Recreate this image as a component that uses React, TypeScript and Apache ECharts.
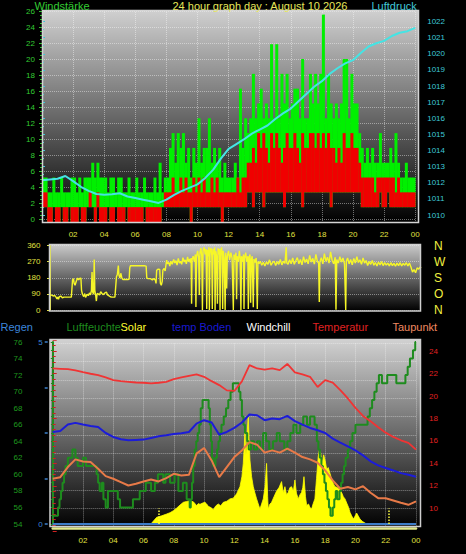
import React, { useEffect, useRef } from 'react';
import * as echarts from 'echarts';

// ---------- labels ----------
const xTickLabels = ['02', '04', '06', '08', '10', '12', '14', '16', '18', '20', '22', '00'];
const directionLetters = ['N', 'O', 'S', 'W', 'N'];
const titleText = '24 hour graph day : August 10 2026';
const topLeftTitle = 'Windstärke';
const topRightTitle = 'Luftdruck';
const legendNames = ['Regen', 'Luftfeuchte', 'Solar', 'temp Boden', 'Windchill', 'Temperatur', 'Taupunkt'];

// ---------- wind (knots, 10-minute bins; band low / avg high / gust high) ----------
const windLowKn = [
  1, 1, 0, 0, 1, 0, 0, 1, 0, 0, 1, 0, 0, 0, 1, 0, 0, 1, 1, 1, 0, 1, 0, 0,
  0, 1, 0, 0, 1, 0, 0, 0, 1, 0, 0, 0, 0, 0, 0, 1, 0, 0, 0, 0, 0, 0, 1, 1,
  1, 1, 1, 1, 1, 1, 1, 1, 1, 0, 1, 1, 1, 1, 1, 1, 1, 1, 1, 1, 1, 0, 1, 1,
  1, 1, 1, 1, 1, 1, 1, 2, 2, 1, 2, 2, 2, 1, 2, 2, 2, 2, 2, 2, 2, 1, 2, 2,
  2, 2, 2, 2, 1, 2, 2, 2, 2, 2, 2, 2, 2, 2, 2, 1, 2, 2, 2, 2, 2, 2, 2, 2,
  2, 2, 2, 1, 1, 1, 1, 1, 1, 1, 2, 1, 1, 2, 1, 1, 1, 1, 1, 1, 1, 1, 1, 1,
];
const windAvgHighKn = [
  2, 2, 1, 1, 1, 1, 1, 1, 1, 1, 1, 1, 1, 1, 1, 1, 1, 1, 2, 1, 1, 2, 1, 1,
  1, 1, 1, 1, 1, 1, 1, 1, 1, 1, 1, 1, 1, 1, 1, 1, 1, 1, 1, 1, 1, 1, 1, 2,
  2, 2, 3, 2, 2, 3, 2, 3, 2, 2, 3, 2, 3, 2, 3, 2, 2, 3, 2, 3, 2, 2, 2, 2,
  2, 2, 2, 3, 2, 3, 3, 4, 4, 5, 4, 6, 5, 6, 5, 4, 6, 5, 6, 5, 4, 5, 6, 5,
  5, 6, 5, 4, 6, 5, 5, 6, 6, 5, 6, 5, 6, 5, 6, 5, 5, 4, 5, 4, 6, 5, 5, 6,
  5, 5, 4, 3, 3, 3, 3, 3, 2, 3, 3, 3, 3, 3, 3, 3, 2, 3, 2, 2, 2, 2, 2, 2,
];
const windGustHighKn = [
  3, 3, 2, 2, 3, 2, 2, 3, 2, 2, 2, 3, 3, 2, 3, 2, 3, 3, 3, 4, 3, 4, 3, 3,
  3, 2, 3, 3, 2, 3, 3, 2, 2, 3, 2, 2, 3, 2, 2, 3, 2, 2, 2, 3, 2, 4, 2, 3,
  3, 5, 6, 4, 6, 5, 6, 4, 5, 3, 5, 4, 7, 4, 5, 5, 7, 4, 5, 4, 5, 3, 4, 3,
  3, 3, 4, 3, 9, 5, 7, 6, 7, 10, 7, 8, 9, 7, 8, 7, 12, 7, 12, 7, 10, 8, 10, 7,
  8, 9, 9, 7, 11, 7, 7, 10, 8, 10, 8, 10, 14, 7, 10, 8, 7, 8, 7, 8, 11, 11, 7, 10,
  8, 8, 6, 5, 4, 5, 4, 5, 4, 4, 6, 4, 4, 4, 5, 4, 6, 4, 3, 3, 4, 3, 3, 3,
];

// ---------- pressure (hPa, half-hourly from 00:00) ----------
const pressureHpa = [
  1012.15, 1012.2, 1012.25, 1012.42, 1012.1, 1011.75, 1011.5, 1011.3, 1011.25, 1011.28,
  1011.35, 1011.15, 1011.05, 1010.95, 1010.85, 1010.75, 1010.95, 1011.25, 1011.5, 1011.7,
  1011.9, 1012.3, 1012.8, 1013.5, 1014.1, 1014.4, 1014.7, 1015.05, 1015.3, 1015.55,
  1015.95, 1016.3, 1016.6, 1017.05, 1017.5, 1017.95, 1018.3, 1018.75, 1019.1, 1019.4,
  1019.6, 1020.05, 1020.45, 1020.65, 1020.8, 1021.1, 1021.3, 1021.4, 1021.6,
];

// ---------- wind direction ([hour, degrees]) ----------
const windDirPoints: [number, number][] = [
  [0, 80], [0.1, 84], [0.2, 78], [0.3, 82], [0.4, 70], [0.45, 62], [0.5, 72], [0.55, 60], [0.6, 74], [0.7, 78],
  [0.8, 68], [0.9, 72], [1.0, 72], [1.2, 72], [1.38, 72], [1.42, 120], [1.46, 168], [1.52, 175], [1.56, 150], [1.62, 138],
  [1.7, 160], [1.78, 178], [1.85, 168], [1.92, 176], [2.0, 178], [2.04, 110], [2.1, 88], [2.18, 75], [2.25, 92], [2.3, 70],
  [2.4, 88], [2.48, 80], [2.55, 95], [2.62, 85], [2.68, 110], [2.72, 212], [2.76, 100], [2.82, 88], [2.86, 282], [2.9, 110],
  [2.95, 85], [3.0, 50], [3.05, 92], [3.12, 90], [3.2, 84], [3.28, 102], [3.36, 92], [3.45, 86], [3.55, 95], [3.65, 100],
  [3.72, 84], [3.8, 80], [3.9, 74], [4.0, 72], [4.1, 72], [4.2, 72], [4.3, 186], [4.36, 200], [4.42, 248], [4.46, 195],
  [4.52, 178], [4.58, 205], [4.65, 178], [4.72, 170], [4.9, 170], [5.05, 170], [5.12, 172], [5.16, 235], [5.2, 247], [5.5, 247],
  [5.8, 247], [6.1, 247], [6.22, 245], [6.26, 180], [6.32, 176], [6.5, 175], [6.62, 168], [6.72, 176], [6.82, 165], [6.86, 148],
  [6.9, 222], [7.0, 228], [7.1, 226], [7.14, 150], [7.2, 138], [7.26, 160], [7.3, 222], [7.38, 232], [7.45, 218], [7.5, 252],
  [7.55, 278], [7.6, 258], [7.68, 266], [7.75, 245], [7.82, 272], [7.9, 255], [8.0, 282], [8.08, 262], [8.15, 276], [8.22, 250],
  [8.3, 288], [8.38, 262], [8.45, 272], [8.52, 255], [8.6, 292], [8.68, 268], [8.75, 280], [8.82, 258], [8.9, 296], [8.96, 270],
  [9.02, 285], [9.08, 265], [9.13, 290], [9.16, 35], [9.19, 280], [9.26, 300], [9.34, 270], [9.4, 310], [9.44, 17], [9.48, 300],
  [9.55, 330], [9.62, 290], [9.66, 84], [9.7, 320], [9.76, 345], [9.82, 300], [9.86, 0], [9.9, 330], [9.98, 350], [10.04, 310],
  [10.1, 340], [10.14, 5], [10.18, 335], [10.24, 300], [10.28, 350], [10.31, 0], [10.35, 330], [10.42, 345], [10.47, 300], [10.5, 5],
  [10.54, 340], [10.6, 310], [10.65, 350], [10.68, 0], [10.72, 330], [10.78, 300], [10.83, 35], [10.87, 345], [10.93, 310], [10.97, 340],
  [11.0, 0], [11.04, 320], [11.1, 350], [11.14, 300], [11.17, 5], [11.21, 330], [11.27, 290], [11.33, 0], [11.37, 320], [11.43, 120],
  [11.47, 300], [11.55, 330], [11.62, 280], [11.7, 320], [11.78, 290], [11.86, 0], [11.9, 310], [11.97, 280], [12.03, 320], [12.07, 60],
  [12.11, 300], [12.18, 270], [12.25, 330], [12.3, 290], [12.35, 0], [12.39, 300], [12.46, 270], [12.52, 310], [12.55, 5], [12.59, 290],
  [12.66, 320], [12.73, 270], [12.8, 300], [12.83, 5], [12.87, 290], [12.94, 310], [12.98, 40], [13.02, 280], [13.08, 300], [13.15, 15],
  [13.19, 285], [13.26, 265], [13.34, 290], [13.41, 5], [13.45, 270], [13.52, 258], [13.6, 272], [13.7, 250], [13.8, 266], [13.9, 246],
  [14.0, 268], [14.1, 255], [14.2, 280], [14.3, 250], [14.4, 266], [14.5, 272], [14.6, 248], [14.7, 270], [14.8, 255], [14.9, 282],
  [15.0, 252], [15.1, 272], [15.2, 260], [15.28, 350], [15.32, 262], [15.4, 255], [15.5, 280], [15.6, 258], [15.7, 290], [15.8, 255],
  [15.9, 275], [16.0, 292], [16.1, 258], [16.2, 282], [16.3, 252], [16.4, 298], [16.5, 265], [16.6, 285], [16.7, 258], [16.8, 305],
  [16.9, 268], [17.0, 288], [17.1, 256], [17.2, 310], [17.3, 270], [17.38, 262], [17.42, 45], [17.46, 270], [17.55, 292], [17.65, 258],
  [17.75, 315], [17.85, 272], [17.95, 295], [18.05, 262], [18.15, 325], [18.25, 278], [18.35, 258], [18.45, 295], [18.5, 2], [18.55, 282],
  [18.65, 262], [18.75, 298], [18.85, 268], [18.95, 290], [19.05, 258], [19.13, 0], [19.17, 272], [19.25, 290], [19.35, 258], [19.45, 282],
  [19.55, 252], [19.65, 288], [19.75, 262], [19.85, 298], [19.95, 265], [20.05, 280], [20.15, 255], [20.25, 290], [20.35, 262], [20.45, 276],
  [20.55, 248], [20.65, 270], [20.75, 255], [20.85, 276], [20.95, 250], [21.05, 265], [21.15, 246], [21.25, 268], [21.35, 252], [21.45, 270],
  [21.55, 248], [21.65, 264], [21.75, 250], [21.85, 262], [21.95, 246], [22.05, 264], [22.15, 248], [22.25, 260], [22.35, 244], [22.45, 262],
  [22.55, 248], [22.65, 264], [22.75, 246], [22.85, 260], [22.95, 250], [23.05, 264], [23.15, 246], [23.25, 262], [23.35, 240], [23.45, 212],
  [23.55, 225], [23.65, 208], [23.75, 235], [23.85, 228], [23.95, 240], [24, 235],
];

// ---------- bottom panel (half-hourly from 00:00) ----------
const tempC = [
  22.45, 22.42, 22.39, 22.27, 22.12, 21.98, 21.86, 21.65, 21.41, 21.32,
  21.26, 21.2, 21.18, 21.12, 21.18, 21.26, 21.5, 21.65, 21.8, 21.92,
  21.71, 21.32, 20.97, 20.5, 20.45, 21.3, 22.75, 22.45, 22.35, 22.45,
  22.3, 22.85, 22.1, 21.92, 21.71, 20.8, 21.41, 21.2, 20.52, 19.78,
  18.94, 18.23, 17.76, 17.22, 16.74, 16.36, 16.06, 15.83, 15.23,
];
const dewPointC = [
  12.64, 12.78, 13.68, 14.36, 14.18, 14.12, 13.53, 12.87, 12.64, 12.34,
  12.04, 12.19, 12.4, 12.58, 12.4, 12.7, 13.08, 12.93, 12.99, 14.87,
  15.37, 14.27, 12.78, 13.68, 14.57, 15.16, 15.9, 15.67, 14.96, 15.16,
  14.96, 15.31, 14.96, 14.57, 14.36, 14.06, 13.38, 12.49, 11.75, 11.9,
  11.69, 11.98, 11.39, 10.91, 10.91, 10.71, 10.5, 10.32, 10.62,
];
const soilTempC = [
  16.8, 16.89, 17.46, 17.61, 17.46, 17.34, 17.25, 16.71, 16.36, 16.15,
  16.06, 16.09, 16.12, 16.27, 16.42, 16.5, 16.62, 16.68, 16.8, 17.55,
  17.85, 17.64, 16.56, 16.8, 17.16, 17.64, 18.35, 18.29, 17.85, 18.0,
  17.94, 18.23, 17.76, 17.46, 17.16, 16.95, 16.71, 16.21, 15.85, 15.52,
  15.16, 14.72, 14.19, 13.83, 13.59, 13.38, 13.14, 12.99, 12.81,
];
const humidityPoints: [number, number][] = [
  [0, 55], [0.35, 56], [0.45, 57], [0.55, 58], [0.65, 59], [0.75, 60], [0.85, 61], [1.0, 62], [1.3, 63], [1.5, 62],
  [1.65, 61], [2.0, 62], [2.2, 61], [2.9, 60], [3.0, 59], [3.1, 58], [3.25, 59], [3.35, 57], [3.5, 56], [3.65, 58],
  [4.3, 57], [4.45, 56], [5.3, 57], [5.75, 58], [6.15, 59], [6.5, 58], [6.75, 59], [6.95, 60], [7.3, 59], [7.45, 60],
  [7.75, 59], [8.05, 60], [8.3, 58], [8.6, 59], [8.85, 57], [9.05, 56], [9.12, 57], [9.2, 59], [9.28, 61], [9.38, 63],
  [9.48, 64], [9.58, 65], [9.68, 66], [9.78, 68], [9.9, 69], [10.3, 68], [10.38, 66], [10.45, 64], [10.52, 62], [10.6, 61],
  [10.75, 62], [10.85, 63], [10.95, 64], [11.05, 65], [11.15, 66], [11.3, 67], [11.45, 68], [11.6, 69], [11.75, 70], [11.9, 71],
  [12.3, 70], [12.4, 69], [12.5, 67], [12.6, 66], [12.7, 65], [12.85, 64], [12.95, 63], [13.1, 64], [13.3, 63], [13.5, 64],
  [13.7, 63], [13.9, 65], [14.1, 64], [14.3, 63], [14.55, 64], [14.8, 65], [15.0, 64], [15.3, 63], [15.5, 64], [15.7, 65],
  [15.9, 66], [16.1, 65], [16.35, 66], [16.55, 67], [16.8, 66], [17.0, 67], [17.3, 66], [17.45, 64], [17.55, 63], [17.65, 62],
  [17.75, 61], [17.85, 60], [17.95, 59], [18.05, 58], [18.15, 57], [18.25, 56], [18.35, 55], [18.5, 56], [18.6, 57], [18.7, 58],
  [18.8, 57], [18.95, 58], [19.05, 59], [19.15, 60], [19.25, 61], [19.35, 62], [19.5, 63], [19.65, 64], [19.8, 65], [20.0, 66],
  [20.8, 67], [20.95, 68], [21.1, 69], [21.25, 70], [21.4, 71], [21.55, 72], [21.75, 71], [22.1, 72], [22.4, 72], [22.7, 71],
  [23.3, 72], [23.45, 73], [23.6, 74], [23.8, 75], [23.95, 76], [24, 76],
];
const solarPoints: [number, number][] = [
  [6.5, 0], [6.54, 5], [6.87, 37], [7.2, 45], [7.53, 55], [7.75, 62], [7.97, 73], [8.2, 88], [8.41, 104], [8.63, 119],
  [8.85, 124], [9.07, 128], [9.29, 122], [9.51, 101], [9.62, 112], [9.73, 108], [9.9, 115], [10.06, 119], [10.17, 110], [10.28, 97],
  [10.45, 90], [10.61, 79], [10.78, 100], [10.94, 110], [11.1, 100], [11.27, 119], [11.5, 125], [11.71, 138], [11.93, 142], [12.15, 166],
  [12.37, 205], [12.5, 260], [12.59, 333], [12.65, 420], [12.7, 516], [12.76, 380], [12.81, 406], [12.86, 520], [12.92, 590], [12.97, 470],
  [13.03, 351], [13.14, 260], [13.25, 205], [13.36, 170], [13.47, 138], [13.58, 110], [13.69, 82], [13.8, 110], [13.91, 138], [14.02, 200],
  [14.13, 333], [14.2, 150], [14.24, 82], [14.35, 110], [14.46, 119], [14.62, 150], [14.79, 181], [14.95, 200], [15.12, 233], [15.23, 170],
  [15.34, 205], [15.45, 160], [15.56, 174], [15.67, 200], [15.78, 205], [15.9, 180], [16.0, 242], [16.1, 170], [16.22, 138], [16.33, 160],
  [16.44, 174], [16.52, 200], [16.6, 260], [16.7, 150], [16.78, 101], [16.9, 110], [17.0, 90], [17.1, 82], [17.2, 110], [17.32, 138],
  [17.43, 250], [17.54, 370], [17.62, 406], [17.7, 390], [17.8, 330], [17.9, 380], [17.99, 351], [18.1, 300], [18.2, 310], [18.32, 278],
  [18.45, 240], [18.55, 220], [18.65, 205], [18.8, 200], [18.98, 187], [19.1, 170], [19.2, 150], [19.31, 138], [19.45, 110], [19.55, 90],
  [19.64, 64], [19.75, 45], [19.86, 27], [19.95, 40], [20.08, 60], [20.18, 45], [20.3, 27], [20.45, 15], [20.63, 5], [20.74, 0],
];
const rainPoints: [number, number][] = [[0, 0], [24, 0]];
const sunMarkHours = [7.02, 22.2];

// ---------- chart ----------
const FONT = 'Liberation Sans';
const KMH_PER_KNOT = 1.852;
const BIN = 1 / 6;
const halfHourly = (arr: number[]) => arr.map((v, i) => [i * 0.5, v]);
const hourLabel = (v: number) => (v > 0 && v <= 24 ? xTickLabels[Math.round(v / 2) - 1] ?? '' : '');
const grad = (c0: string, c1: string) =>
  new echarts.graphic.LinearGradient(0, 0, 0, 1, [
    { offset: 0, color: c0 },
    { offset: 1, color: c1 },
  ]);
const dotted = { type: 'dotted', color: 'rgba(255,255,255,0.42)', width: 1 };

function bandSeries(name: string, high: number[], color: string, z: number) {
  return {
    type: 'custom',
    name,
    xAxisIndex: 1,
    yAxisIndex: 1,
    z,
    silent: true,
    encode: { x: 0, y: [1, 2] },
    data: windLowKn.map((lo, i) => [i * BIN, lo * KMH_PER_KNOT, high[i] * KMH_PER_KNOT]),
    renderItem: (_p: any, api: any) => {
      const x0 = api.value(0);
      const a = api.coord([x0, api.value(2)]);
      const b = api.coord([x0 + BIN, api.value(1)]);
      return {
        type: 'rect',
        shape: { x: a[0], y: a[1], width: b[0] - a[0] + 0.4, height: b[1] - a[1] },
        style: { fill: color },
      };
    },
  };
}

function text(t: string, x: number, y: number, fill: string, size = 11) {
  return {
    type: 'text',
    x,
    y,
    z: 60,
    silent: true,
    style: {
      text: t,
      fill,
      font: `${size}px "${FONT}"`,
      align: 'left',
      verticalAlign: 'middle',
      textAlign: 'left',
      textVerticalAlign: 'middle',
    },
  };
}

function buildOption(): any {
  const hiddenX = (gridIndex: number) => ({ type: 'value', gridIndex, min: 0, max: 24, interval: 2, show: false });
  const legendX = [0.5, 66.5, 120.5, 172, 246.5, 312.5, 392.5];
  const legendColors = ['#3c86dc', '#1e8c1e', '#ffff30', '#1a1ad0', '#ffffff', '#e02222', '#f08a60'];

  return {
    animation: false,
    backgroundColor: '#000',
    textStyle: { fontFamily: FONT },
    grid: [
      { left: 42, top: 11, width: 373.2, height: 208 },
      { left: 42, top: 10, width: 373.2, height: 212 },
      { left: 42, top: 21.5, width: 373.2, height: 193.5 },
      { left: 50, top: 245.5, width: 371, height: 64.5 },
      { left: 52.7, top: 342, width: 363.3, height: 182 },
      { left: 52.7, top: 339.8, width: 363.3, height: 191.1 },
      { left: 52.7, top: 343.4, width: 363.3, height: 183.2 },
    ],
    xAxis: [
      hiddenX(0),
      {
        type: 'value', gridIndex: 1, min: 0, max: 24, interval: 2,
        axisLine: { show: false }, axisTick: { show: false },
        axisLabel: { color: '#e0e040', fontSize: 8, margin: 8, showMinLabel: false, formatter: hourLabel },
        splitLine: { show: true, lineStyle: dotted },
      },
      hiddenX(2),
      hiddenX(3),
      hiddenX(4),
      hiddenX(5),
      {
        type: 'value', gridIndex: 6, min: 0, max: 24, interval: 2, offset: 1.5,
        axisLine: { show: true, onZero: false, lineStyle: { color: '#e2ea8c', width: 2.5 } },
        axisTick: { show: false },
        axisLabel: { color: '#e0e040', fontSize: 8, margin: 8, showMinLabel: false, formatter: hourLabel },
        splitLine: { show: true, lineStyle: dotted },
      },
    ],
    yAxis: [
      {
        type: 'value', gridIndex: 0, min: 0, max: 26, interval: 2, position: 'left', offset: 2,
        axisLine: { show: true, lineStyle: { color: '#2fbf2f', type: 'dotted' } },
        axisTick: { show: true, length: 3, lineStyle: { color: '#2fbf2f' } },
        minorTick: { show: true, splitNumber: 4, length: 2, lineStyle: { color: '#2fbf2f' } },
        axisLabel: { color: '#33cc33', fontSize: 8, margin: 5 },
        splitLine: { show: true, lineStyle: dotted },
      },
      { type: 'value', gridIndex: 1, min: 0, max: 26.5, show: false },
      {
        type: 'value', gridIndex: 2, min: 1010, max: 1022, interval: 1, position: 'right', offset: 5,
        axisLine: { show: false },
        axisTick: { show: true, length: 3, lineStyle: { color: '#3ec8d8' } },
        minorTick: { show: true, splitNumber: 2, length: 2, lineStyle: { color: '#3ec8d8' } },
        axisLabel: { color: '#3ec8d8', fontSize: 8, margin: 7, formatter: (v: number) => String(v) },
        splitLine: { show: false },
      },
      {
        type: 'value', gridIndex: 3, min: 0, max: 360, interval: 90, position: 'left', offset: 2.5,
        axisLine: { show: true, lineStyle: { color: '#e0e040' } },
        axisTick: { show: true, length: 3, lineStyle: { color: '#e0e040' } },
        axisLabel: { color: '#e0e040', fontSize: 8, margin: 7 },
        splitLine: { show: true, lineStyle: dotted },
      },
      {
        type: 'value', gridIndex: 3, min: 0, max: 360, interval: 90, position: 'right', offset: 0,
        axisLine: { show: false }, axisTick: { show: false },
        axisLabel: { color: '#f0f040', fontSize: 12, margin: 13, formatter: (v: number) => directionLetters[Math.round(v / 90)] ?? '' },
        splitLine: { show: false },
      },
      {
        type: 'value', gridIndex: 4, min: 54, max: 76, interval: 2, position: 'left', offset: 23.2,
        axisLine: { show: true, lineStyle: { color: '#1e8c1e', width: 2 } },
        axisTick: { show: true, length: 3, lineStyle: { color: '#1e8c1e' } },
        minorTick: { show: true, splitNumber: 2, length: 2, lineStyle: { color: '#1e8c1e' } },
        axisLabel: { color: '#1f9a1f', fontSize: 8, margin: 7 },
        splitLine: { show: false },
      },
      {
        type: 'value', gridIndex: 4, min: 0, max: 5, interval: 1.25, position: 'left', offset: 5,
        axisLine: { show: false },
        axisTick: { show: true, length: 3, lineStyle: { color: '#3c80cc', width: 1.5 } },
        axisLabel: { color: '#3c86dc', fontSize: 8, margin: 5, formatter: (v: number) => (v === 0 || v === 5 ? String(v) : '') },
        splitLine: { show: false },
      },
      { type: 'value', gridIndex: 4, min: 0, max: 1000, show: false },
      {
        type: 'value', gridIndex: 5, min: 8, max: 25, interval: 2, position: 'right', offset: 5,
        axisLine: { show: false },
        axisTick: { show: true, length: 4, lineStyle: { color: '#d02020' } },
        minorTick: { show: true, splitNumber: 4, length: 3, lineStyle: { color: '#d02020' } },
        axisLabel: { color: '#e02020', fontSize: 8, margin: 8, formatter: (v: number) => (v >= 10 && v <= 24 ? String(v) : '') },
        splitLine: { show: false },
      },
      {
        type: 'value', gridIndex: 6, min: 0, max: 10, interval: 1,
        axisLine: { show: false }, axisTick: { show: false }, axisLabel: { show: false },
        splitLine: { show: true, lineStyle: dotted },
      },
    ],
    series: [
      bandSeries('Böen', windGustHighKn, '#00f000', 2),
      bandSeries('Wind', windAvgHighKn, '#f00000', 3),
      {
        type: 'line', name: 'Luftdruck', xAxisIndex: 2, yAxisIndex: 2, z: 5,
        data: halfHourly(pressureHpa), showSymbol: false, symbol: 'none',
        lineStyle: { color: '#44e4e4', width: 2 },
      },
      {
        type: 'line', name: 'Windrichtung', xAxisIndex: 3, yAxisIndex: 3, z: 3,
        data: windDirPoints, showSymbol: false, symbol: 'none',
        lineStyle: { color: '#f6f628', width: 1.4 },
      },
      {
        type: 'line', name: 'Solar', xAxisIndex: 4, yAxisIndex: 7, z: 2,
        data: solarPoints, showSymbol: false, symbol: 'none',
        lineStyle: { color: '#ffff00', width: 0.8 },
        areaStyle: { color: '#ffff00', opacity: 1 },
        markLine: {
          silent: true, symbol: 'none', label: { show: false },
          lineStyle: { color: '#ffff40', type: 'dotted', width: 1.5 },
          data: sunMarkHours.map((h) => [{ coord: [h, 0] }, { coord: [h, 85] }]),
        },
      },
      {
        type: 'line', name: 'Luftfeuchte', xAxisIndex: 4, yAxisIndex: 5, z: 3,
        data: humidityPoints, step: 'end', showSymbol: false, symbol: 'none',
        lineStyle: { color: '#1e8c1e', width: 2 },
      },
      {
        type: 'line', name: 'Regen', xAxisIndex: 4, yAxisIndex: 6, z: 3,
        data: rainPoints, showSymbol: false, symbol: 'none',
        lineStyle: { color: '#3c7cc8', width: 2 },
      },
      {
        type: 'line', name: 'Taupunkt', xAxisIndex: 5, yAxisIndex: 8, z: 4,
        data: halfHourly(dewPointC), showSymbol: false, symbol: 'none',
        lineStyle: { color: '#e87a48', width: 2 },
      },
      {
        type: 'line', name: 'temp Boden', xAxisIndex: 5, yAxisIndex: 8, z: 4,
        data: halfHourly(soilTempC), showSymbol: false, symbol: 'none',
        lineStyle: { color: '#1c1cd8', width: 2 },
      },
      {
        type: 'line', name: 'Temperatur', xAxisIndex: 5, yAxisIndex: 8, z: 5,
        data: halfHourly(tempC), showSymbol: false, symbol: 'none',
        lineStyle: { color: '#f03434', width: 1.8 },
      },
    ],
    graphic: {
      elements: [
        { type: 'rect', z: -10, silent: true, shape: { x: 42, y: 10, width: 377, height: 213 }, style: { fill: grad('#d0d0d0', '#000000') } },
        { type: 'rect', z: -10, silent: true, shape: { x: 49, y: 244, width: 372, height: 67 }, style: { fill: grad('#cccccc', '#000000') } },
        { type: 'rect', z: -10, silent: true, shape: { x: 50, y: 339, width: 371, height: 189 }, style: { fill: grad('#d2d2d2', '#000000') } },
        { type: 'rect', z: 8, silent: true, shape: { x: 42.5, y: 10.5, width: 376, height: 212 }, style: { fill: 'none', stroke: '#d4d4d4', lineWidth: 1.5 } },
        { type: 'rect', z: 8, silent: true, shape: { x: 49.5, y: 244.5, width: 371, height: 66.5 }, style: { fill: 'none', stroke: '#cfcfcf', lineWidth: 1.5 } },
        { type: 'rect', z: 8, silent: true, shape: { x: 50, y: 339.5, width: 370.5, height: 187 }, style: { fill: 'none', stroke: '#cfcfcf', lineWidth: 1.5 } },
        { type: 'rect', z: 50, silent: true, shape: { x: 0, y: 0, width: 466, height: 9 }, style: { fill: '#000000' } },
        text(topLeftTitle, 34.5, 6, '#33cc33'),
        text(titleText, 172.5, 6, '#e6e65a'),
        text(topRightTitle, 371.5, 6, '#40c8d8'),
        ...legendNames.map((n, i) => text(n, legendX[i], 326.5, legendColors[i])),
      ],
    },
  };
}

export default function App() {
  const ref = useRef<HTMLDivElement>(null);
  useEffect(() => {
    document.body.style.margin = '0';
    document.body.style.background = '#000';
    const chart = echarts.init(ref.current as HTMLDivElement, null, { renderer: 'svg', width: 466, height: 554 });
    chart.setOption(buildOption());
    return () => chart.dispose();
  }, []);
  return (
    <div
      ref={ref}
      style={{ position: 'fixed', left: 0, top: 0, width: 466, height: 554, background: '#000' }}
    />
  );
}
